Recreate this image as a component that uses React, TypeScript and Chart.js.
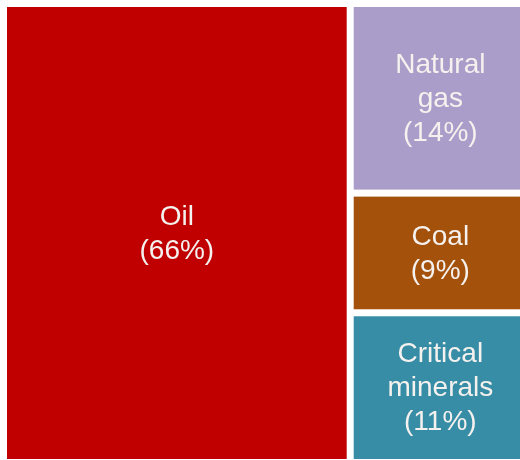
import React, { useEffect, useRef } from "react";
import { Chart, registerables } from "chart.js";

Chart.register(...registerables);

// Shares of the total, in percent
const categories: string[] = ["Oil", "Natural gas", "Coal", "Critical minerals"];
const shares: number[] = [66, 14, 9, 11];
const tileLabels: string[][] = [
  ["Oil", "(66%)"],
  ["Natural", "gas", "(14%)"],
  ["Coal", "(9%)"],
  ["Critical", "minerals", "(11%)"],
];
const tileColors: string[] = ["#C00000", "#AB9DC9", "#A4510B", "#378DA6"];

const GAP = 7;
const FONT = "28px 'Liberation Sans', Arial, sans-serif";
const LINE_HEIGHT = 34;

type Tile = { x0: number; x1: number; y0: number; y1: number };

// First category takes a full-height column; the rest are stacked in the remaining column.
function layoutTiles(values: number[]): Tile[] {
  const total = values.reduce((a, b) => a + b, 0);
  const firstW = (values[0] / total) * 100;
  const rest = values.slice(1);
  const restTotal = rest.reduce((a, b) => a + b, 0);
  const tiles: Tile[] = [{ x0: 0, x1: firstW, y0: 0, y1: 100 }];
  let acc = 0;
  rest.forEach((v) => {
    const h = (v / restTotal) * 100;
    tiles.push({ x0: firstW, x1: 100, y0: acc, y1: acc + h });
    acc += h;
  });
  return tiles;
}

const treemapPlugin = {
  id: "treemapTiles",
  afterDatasetsDraw(chart: any) {
    const { ctx, scales } = chart;
    const xs = scales.x;
    const ys = scales.y;
    const tiles = layoutTiles(shares);
    const left = xs.getPixelForValue(0);
    const right = xs.getPixelForValue(100);
    const top = ys.getPixelForValue(0);
    const bottom = ys.getPixelForValue(100);
    ctx.save();
    tiles.forEach((t, i) => {
      let px0 = xs.getPixelForValue(t.x0);
      let px1 = xs.getPixelForValue(t.x1);
      let py0 = ys.getPixelForValue(t.y0);
      let py1 = ys.getPixelForValue(t.y1);
      if (px0 > left + 0.5) px0 += GAP / 2;
      if (px1 < right - 0.5) px1 -= GAP / 2;
      if (py0 > top + 0.5) py0 += GAP / 2;
      if (py1 < bottom - 0.5) py1 -= GAP / 2;
      ctx.fillStyle = tileColors[i];
      ctx.fillRect(px0, py0, px1 - px0, py1 - py0);

      const lines = tileLabels[i];
      const cx = (px0 + px1) / 2;
      const cy = (py0 + py1) / 2;
      ctx.font = FONT;
      ctx.fillStyle = "#F4F1EE";
      ctx.textAlign = "center";
      ctx.textBaseline = "middle";
      const startY = cy - ((lines.length - 1) * LINE_HEIGHT) / 2;
      lines.forEach((ln, j) => ctx.fillText(ln, cx, startY + j * LINE_HEIGHT + 1));
    });
    ctx.restore();
  },
};

export default function App() {
  const canvasRef = useRef<HTMLCanvasElement | null>(null);

  useEffect(() => {
    if (!canvasRef.current) return;
    const chart = new Chart(canvasRef.current, {
      type: "scatter",
      data: {
        labels: categories,
        datasets: [{ label: "Share", data: [], pointRadius: 0 }],
      },
      options: {
        animation: false,
        responsive: true,
        maintainAspectRatio: false,
        layout: { padding: 0 },
        plugins: {
          legend: { display: false },
          tooltip: { enabled: false },
        },
        scales: {
          x: { type: "linear", min: 0, max: 100, display: false },
          y: { type: "linear", min: 0, max: 100, reverse: true, display: false },
        },
      },
      plugins: [treemapPlugin],
    });
    return () => chart.destroy();
  }, []);

  return (
    <div
      style={{
        position: "fixed",
        left: 7,
        top: 7,
        width: 520,
        height: 452,
      }}
    >
      <canvas ref={canvasRef} />
    </div>
  );
}
